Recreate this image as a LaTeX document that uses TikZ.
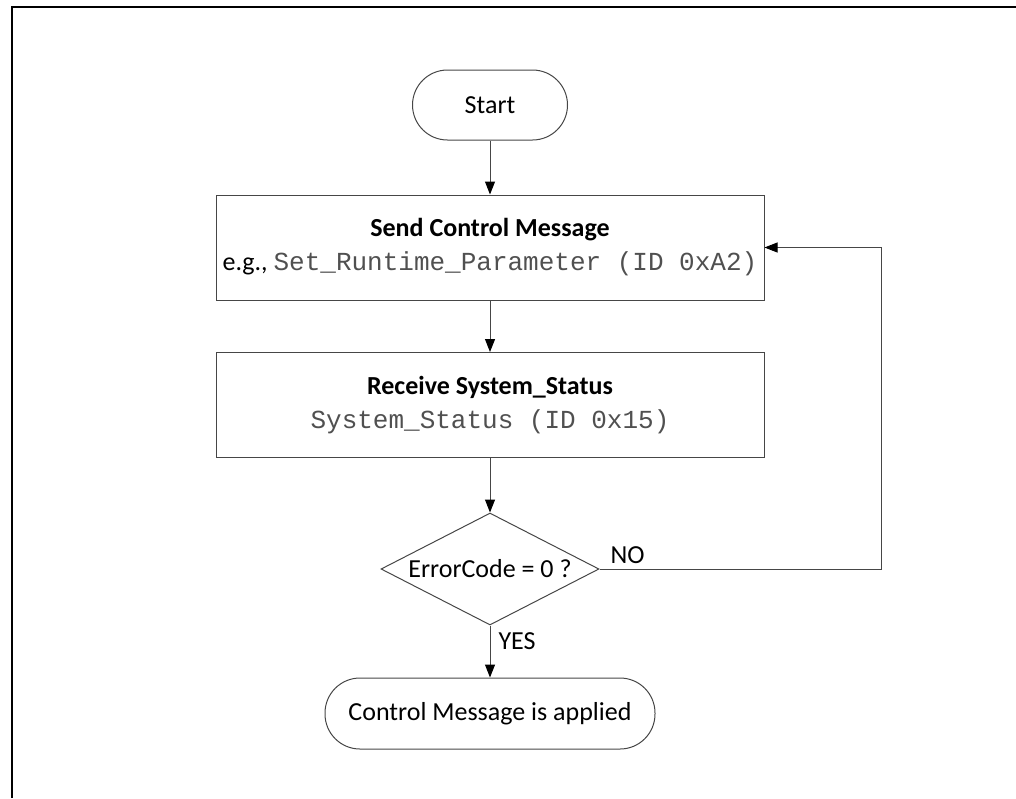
\documentclass[tikz,border=0pt]{standalone}
\usepackage{fontspec}
\setmainfont{Carlito}
\setmonofont{Liberation Mono}
\usetikzlibrary{arrows.meta,shapes.geometric}
\definecolor{linegray}{RGB}{70,70,70}
\definecolor{monogray}{RGB}{80,80,80}
\tikzset{
  base/.style={draw=linegray, line width=1pt, inner sep=0pt, align=center,
    font=\fontsize{26}{34}\selectfont, text=black},
  terminal/.style={base, rounded corners=35pt, minimum height=70pt},
  procbox/.style={base, rectangle, minimum width=548pt, minimum height=105pt},
  decision/.style={base, diamond, minimum width=218pt, minimum height=112pt},
  flow/.style={draw=linegray, line width=1pt, -{Triangle[length=13pt,width=10pt,color=black]}},
  lbl/.style={font=\fontsize{26}{30}\selectfont, inner sep=0pt}
}
\newcommand{\mcode}[1]{{\ttfamily\color{monogray}#1}}
\begin{document}
\begin{tikzpicture}[x=1pt,y=-1pt]
\useasboundingbox (0,0) rectangle (1016,798);
\draw[black, line width=2.4pt] (12,798) -- (12,7) -- (1016,7);

\node[terminal, minimum width=155pt] (start) at (490,105) {Start};
\node[procbox] (send) at (490,247.5) {\textbf{Send Control Message}\\e.g., \mcode{Set\_Runtime\_Parameter (ID 0xA2)}};
\node[procbox] (recv) at (490,405) {\textbf{Receive System\_Status}\\\mcode{System\_Status (ID 0x15)}};
\node[decision, label={[lbl]center:ErrorCode = 0 ?}] (dec) at (490,569) {};
\node[terminal, minimum width=330pt, minimum height=71pt] (end) at (490,713.5) {Control Message is applied};

\coordinate (fb) at (881,569);

\draw[flow] (start) -- (send);
\draw[flow] (send) -- (recv);
\draw[flow] (recv) -- (dec);
\draw[flow] (dec) -- node[lbl, right=8pt, pos=0.3] (yes) {YES} (end);
\draw[flow] (dec.east) -- node[lbl, above=5pt, pos=0.1] (no) {NO} (fb) |- (send.east);
\end{tikzpicture}
\end{document}
